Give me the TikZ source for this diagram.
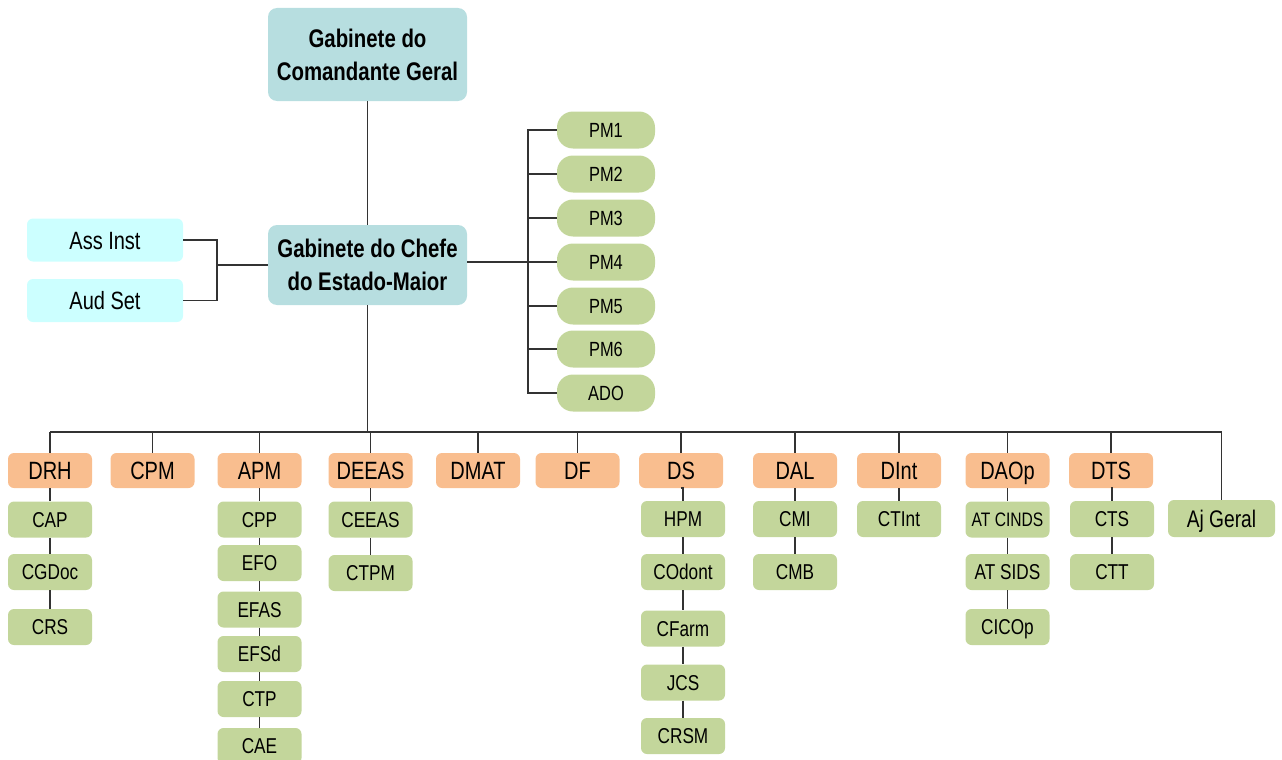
\documentclass[tikz,border=0pt]{standalone}
\usepackage{fontspec}
\setmainfont{Liberation Sans}[FakeStretch=0.8]
\definecolor{teal}{HTML}{B7DEE0}
\definecolor{cyanl}{HTML}{CCFFFF}
\definecolor{orng}{HTML}{F9BE8F}
\definecolor{grn}{HTML}{C3D69B}
\definecolor{ln}{HTML}{333333}
\tikzset{
  base/.style={inner sep=0pt, text=black, align=center},
  topbox/.style={base, fill=teal, rounded corners=9pt, minimum width=199pt, font=\bfseries\fontsize{25.5}{33}\selectfont},
  sidebox/.style={base, text height=23pt, text depth=5pt, fill=cyanl, rounded corners=6pt, minimum width=156pt, minimum height=43pt, font=\fontsize{25}{30}\selectfont},
  pmbox/.style={base, text height=18.9pt, text depth=4.1pt, fill=grn, rounded corners=16pt, minimum width=98pt, minimum height=37pt, font=\fontsize{20.5}{24}\selectfont},
  dept/.style={base, text height=23pt, text depth=5pt, fill=orng, rounded corners=6pt, minimum width=84pt, minimum height=35pt, font=\fontsize{25}{30}\selectfont},
  unit/.style={base, text height=19.8pt, text depth=4.3pt, fill=grn, rounded corners=6pt, minimum width=84pt, minimum height=36pt, font=\fontsize{21.5}{25}\selectfont},
  conn/.style={draw=ln, line width=1.6pt},
}
\begin{document}
\begin{tikzpicture}[x=1pt,y=-1pt]
\useasboundingbox (0,0) rectangle (1282,760);
% top
\node[topbox, minimum height=93pt] (cmd) at (367.5,54.5) {Gabinete do\\Comandante Geral};
\node[topbox, minimum height=80pt] (chefe) at (367.5,265) {Gabinete do Chefe\\do Estado-Maior};
\node[sidebox] (ass) at (105,240) {Ass Inst};
\node[sidebox] (aud) at (105,300.5) {Aud Set};
% PM
\node[pmbox] (pm1) at (606,130) {PM1};
\node[pmbox] (pm2) at (606,174) {PM2};
\node[pmbox] (pm3) at (606,218) {PM3};
\node[pmbox] (pm4) at (606,262) {PM4};
\node[pmbox] (pm5) at (606,306) {PM5};
\node[pmbox] (pm6) at (606,349) {PM6};
\node[pmbox] (ado) at (606,393) {ADO};
\coordinate (spine) at (528,0);
\coordinate (br) at (217,265);
\coordinate (bus) at (0,432);
% departments
\node[dept] (drh) at (50,470.5) {DRH};
\node[dept] (cpm) at (152.5,470.5) {CPM};
\node[dept] (apm) at (259.5,470.5) {APM};
\node[dept] (deeas) at (370.5,470.5) {DEEAS};
\node[dept] (dmat) at (478,470.5) {DMAT};
\node[dept] (df) at (577.5,470.5) {DF};
\node[dept] (ds) at (681,470.5) {DS};
\node[dept] (dal) at (795,470.5) {DAL};
\node[dept] (dint) at (899,470.5) {DInt};
\node[dept] (daop) at (1007.5,470.5) {DAOp};
\node[dept] (dts) at (1111,470.5) {DTS};
\node[unit, text height=22pt, text depth=4.8pt, minimum width=107pt, minimum height=37pt, font=\fontsize{24}{28}\selectfont] (aj) at (1221.5,518.5) {Aj Geral};
% units
\node[unit] (cap) at (50,519.5) {CAP};
\node[unit] (cgdoc) at (50,572) {CGDoc};
\node[unit] (crs) at (50,627) {CRS};
\node[unit] (cpp) at (259.5,519.5) {CPP};
\node[unit] (efo) at (259.5,563) {EFO};
\node[unit] (efas) at (259.5,609.5) {EFAS};
\node[unit] (efsd) at (259.5,654) {EFSd};
\node[unit] (ctp) at (259.5,699) {CTP};
\node[unit] (cae) at (259.5,746) {CAE};
\node[unit] (ceeas) at (370.5,519.5) {CEEAS};
\node[unit] (ctpm) at (370.5,573) {CTPM};
\node[unit] (hpm) at (683,519) {HPM};
\node[unit] (codont) at (683,572) {COdont};
\node[unit] (cfarm) at (683,628.5) {CFarm};
\node[unit] (jcs) at (683,682.5) {JCS};
\node[unit] (crsm) at (683,736) {CRSM};
\node[unit] (cmi) at (795,519) {CMI};
\node[unit] (cmb) at (795,572) {CMB};
\node[unit] (ctint) at (899,519) {CTInt};
\node[unit, text height=18pt, text depth=3.9pt, font=\fontsize{19.5}{23}\selectfont] (atcinds) at (1007.5,519.5) {AT CINDS};
\node[unit] (atsids) at (1007.5,572) {AT SIDS};
\node[unit] (cicop) at (1007.5,627) {CICOp};
\node[unit] (cts) at (1112,519) {CTS};
\node[unit] (ctt) at (1112,572) {CTT};
% connectors
\draw[conn] (cmd.south) -- (chefe.north);
\draw[conn] (ass.east) -| (br) |- (aud.east);
\draw[conn] (br) -- (chefe.west);
\draw[conn] (chefe.east |- pm4) -- (pm4.west);
\draw[conn] (pm1.west) -- (pm1.west -| spine) -- (ado.west -| spine) -- (ado.west);
\foreach \p in {pm2,pm3,pm5,pm6} \draw[conn] (\p.west) -- (\p.west -| spine);
\draw[conn] (chefe.south) -- (chefe.south |- bus);
\draw[conn] (drh.north |- bus) -- (aj.north |- bus);
\foreach \d in {drh,cpm,apm,deeas,dmat,df,ds,dal,dint,daop,dts,aj} \draw[conn] (\d.north |- bus) -- (\d.north);
\foreach \a/\b in {drh/cap,cap/cgdoc,cgdoc/crs,apm/cpp,cpp/efo,efo/efas,efas/efsd,efsd/ctp,ctp/cae,deeas/ceeas,ceeas/ctpm,ds/hpm,hpm/codont,codont/cfarm,cfarm/jcs,jcs/crsm,dal/cmi,cmi/cmb,dint/ctint,daop/atcinds,atcinds/atsids,atsids/cicop,dts/cts,cts/ctt}
  \draw[conn] (\a.south) -- (\a.south -| \b.north) -- (\b.north);
\end{tikzpicture}
\end{document}
